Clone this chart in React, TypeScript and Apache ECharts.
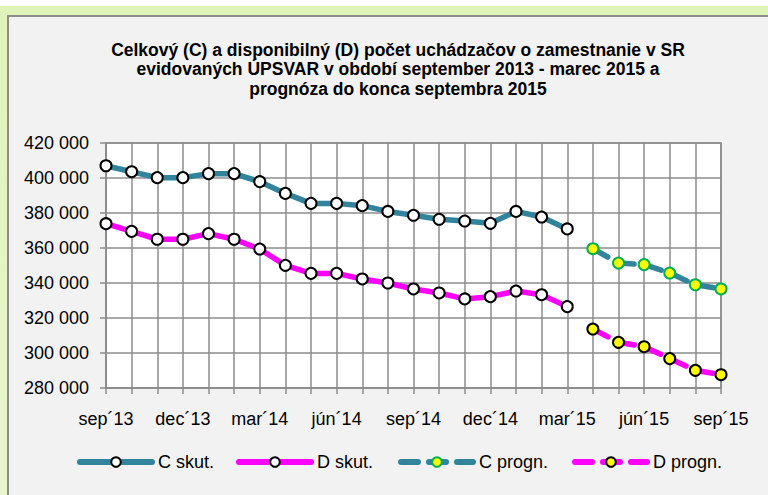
import React, { useEffect, useRef } from "react";
import * as echarts from "echarts";

const months = [
  "sep´13", "okt´13", "nov´13", "dec´13", "jan´14", "feb´14", "mar´14", "apr´14", "máj´14", "jún´14", "júl´14", "aug´14",
  "sep´14", "okt´14", "nov´14", "dec´14", "jan´15", "feb´15", "mar´15", "apr´15", "máj´15", "jún´15", "júl´15", "aug´15", "sep´15",
];
const cSkut = [407000, 403600, 400200, 400200, 402500, 402500, 397900, 391200, 385500, 385500, 384200, 380900, 378700, 376400, 375400, 374100, 380900, 377700, 370900];
const dSkut = [373900, 369500, 365000, 365000, 368200, 365000, 359400, 350100, 345500, 345500, 342300, 340000, 336600, 334300, 330900, 332200, 335400, 333300, 326500];
const cProgn = [359600, 351400, 350500, 345700, 339000, 336600];
const dProgn = [313700, 306100, 303600, 296800, 290100, 287600];
const seriesNames = ["C skut.", "D skut.", "C progn.", "D progn."];
const titleLines = [
  "Celkový (C) a disponibilný (D) počet uchádzačov o zamestnanie v SR",
  "evidovaných ÚPSVAR v období september 2013 - marec 2015 a",
  "prognóza do konca septembra 2015",
];

const FONT = "'Liberation Sans Narrow', 'Arial Narrow', 'Liberation Sans', Arial, sans-serif";
const TEAL = "#31849b";
const MAGENTA = "#ff00ff";
const GRID = "#8c8c8c";
const DASH = [17, 11];

function pad(values: number[], before: number, total: number): (number | null)[] {
  const out: (number | null)[] = [];
  for (let i = 0; i < before; i++) out.push(null);
  for (const v of values) out.push(v);
  while (out.length < total) out.push(null);
  return out;
}

export default function App() {
  const ref = useRef<HTMLDivElement>(null);
  useEffect(() => {
    if (!ref.current) return;
    const chart = echarts.init(ref.current, null, { renderer: "svg" });
    const n = months.length;
    const skutLen = cSkut.length;
    const legendLefts = [77, 236, 398, 572];
    const dashedFlags = [false, false, true, true];
    const mk = (
      name: string,
      data: (number | null)[],
      color: string,
      dashed: boolean,
      symFill: string,
      symBorder: string
    ) => ({
      name,
      type: "line",
      data,
      connectNulls: false,
      symbol: "circle",
      symbolSize: 11,
      showSymbol: true,
      lineStyle: {
        color,
        width: 5.5,
        type: dashed ? DASH : "solid",
        cap: "round",
        join: "round",
      },
      itemStyle: { color: symFill, borderColor: symBorder, borderWidth: 2 },
      emphasis: { disabled: true },
      z: 3,
    });
    chart.setOption({
      animation: false,
      backgroundColor: "transparent",
      textStyle: { fontFamily: FONT },
      title: {
        text: titleLines.join("\n"),
        left: 398,
        top: 40,
        padding: 0,
        textAlign: "center",
        textStyle: {
          fontFamily: FONT,
          fontWeight: "bold",
          fontSize: 17.5,
          lineHeight: 19.5,
          color: "#000",
        },
      },
      legend: seriesNames.map((nm, i) => ({
        data: [nm],
        left: legendLefts[i],
        top: 453,
        padding: 0,
        itemWidth: 72,
        itemHeight: 12,
        itemGap: 0,
        lineStyle: { width: 6, cap: "round", type: dashedFlags[i] ? DASH : "solid" },
        textStyle: { fontFamily: FONT, fontSize: 18, color: "#000", padding: [2, 0, 0, 1] },
        selectedMode: false,
      })),
      grid: {
        left: 106,
        right: 47,
        top: 143,
        bottom: 107,
        show: true,
        backgroundColor: "#ffffff",
        borderColor: GRID,
        borderWidth: 1.5,
      },
      xAxis: {
        type: "category",
        data: months,
        boundaryGap: false,
        axisLine: { lineStyle: { color: GRID, width: 1.5 } },
        axisTick: { show: true, interval: 0, length: 6, lineStyle: { color: GRID, width: 1.5 } },
        splitLine: { show: true, interval: 0, lineStyle: { color: GRID, width: 1.5 } },
        axisLabel: {
          interval: 2,
          margin: 22,
          color: "#000",
          fontFamily: FONT,
          fontSize: 18,
        },
      },
      yAxis: {
        type: "value",
        min: 280000,
        max: 420000,
        interval: 20000,
        axisLine: { show: true, lineStyle: { color: GRID, width: 1.5 } },
        axisTick: { show: true, length: 6, lineStyle: { color: GRID, width: 1.5 } },
        splitLine: { show: true, lineStyle: { color: GRID, width: 1.5 } },
        axisLabel: {
          margin: 17,
          color: "#000",
          fontFamily: FONT,
          fontSize: 18,
          formatter: (v: number) => {
            const s = String(Math.round(v));
            return s.replace(/\B(?=(\d{3})+(?!\d))/g, " ");
          },
        },
      },
      series: [
        mk(seriesNames[0], pad(cSkut, 0, n), TEAL, false, "#ffffff", "#000000"),
        mk(seriesNames[1], pad(dSkut, 0, n), MAGENTA, false, "#ffffff", "#000000"),
        mk(seriesNames[2], pad(cProgn, skutLen, n), TEAL, true, "#ffff00", "#00b050"),
        mk(seriesNames[3], pad(dProgn, skutLen, n), MAGENTA, true, "#ffff00", "#000000"),
      ],
    });
    return () => chart.dispose();
  }, []);

  return (
    <div style={{ position: "fixed", left: 0, top: 0, width: 768, height: 495, background: "#ffffff", overflow: "hidden" }}>
      <div style={{ position: "absolute", left: 0, top: 6, width: 768, height: 489, background: "linear-gradient(#dff3b9, #e8f6cf)" }} />
      <div
        style={{
          position: "absolute",
          left: 7,
          top: 15,
          width: 780,
          height: 500,
          background: "#f2f2f2",
          borderLeft: "2px solid #8c8c8c",
          borderTop: "2px solid #8c8c8c",
        }}
      />
      <div ref={ref} style={{ position: "absolute", left: 0, top: 0, width: 768, height: 495 }} />
    </div>
  );
}
